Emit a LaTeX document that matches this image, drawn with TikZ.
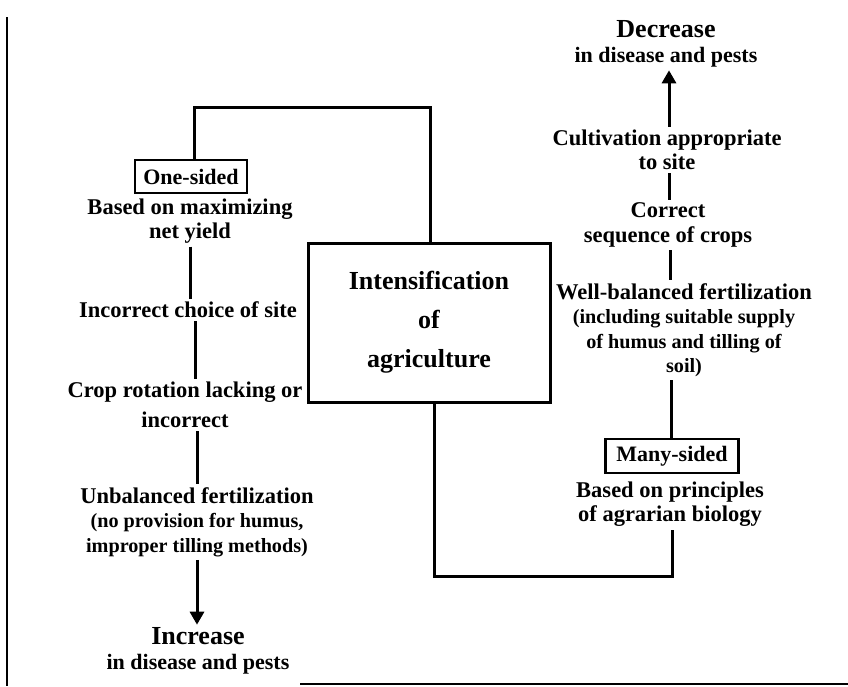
\documentclass[tikz,border=0pt]{standalone}
\usepackage{fontspec}
\setmainfont{Liberation Serif}
\usetikzlibrary{arrows.meta}
\tikzset{
  lbl/.style={align=center, inner sep=3pt, font=\bfseries\fontsize{22.5}{24.5}\selectfont},
  tagbox/.style={draw, line width=2.6pt, inner sep=0pt, font=\bfseries\fontsize{22}{24}\selectfont},
  mainbox/.style={draw, line width=3pt, minimum width=242pt, minimum height=159pt, align=center, font=\bfseries\fontsize{26}{39}\selectfont},
  conn/.style={line width=3pt},
  arr/.style={line width=3pt, -{Triangle[length=13pt,width=14pt]}},
  frame/.style={line width=2.4pt}
}
\begin{document}
\begin{tikzpicture}[x=1pt,y=-1pt]
\useasboundingbox (0,0) rectangle (848,686);
% frame lines
\coordinate (ft) at (7,17);
\coordinate (fb) at (7,686);
\coordinate (bl0) at (300,684);
\coordinate (br0) at (848,684);
\draw[frame] (ft) -- (fb);
\draw[line width=1.8pt] (bl0) -- (br0);

% central box
\node[mainbox] (box) at (429,322.5) {Intensification\\of\\agriculture};

% left column
\node[tagbox, minimum width=112pt, minimum height=33pt] (one) at (191,176.5) {One-sided};
\node[lbl] (based) at (190,221) {Based on maximizing\\net yield};
\node[lbl] (site) at (188,310) {Incorrect choice of site};
\node[lbl] (crop) at (185,405) {Crop rotation lacking or\\[6pt]incorrect};
\node[lbl] (unbal) at (197,522) {Unbalanced fertilization\\{\fontsize{20.2}{24}\selectfont (no provision for humus,}\\{\fontsize{20.2}{24}\selectfont improper tilling methods)}};
\node[lbl] (incr) at (198,651) {{\fontsize{26}{26}\selectfont Increase}\\{\fontsize{22}{24}\selectfont in disease and pests}};

% right column
\node[lbl] (dec) at (666,44) {{\fontsize{26}{26}\selectfont Decrease}\\{\fontsize{22}{24}\selectfont in disease and pests}};
\node[lbl] (cult) at (667,150) {Cultivation appropriate\\to site};
\node[lbl] (corr) at (668,225) {Correct\\sequence of crops};
\node[lbl] (well) at (684,330) {Well-balanced fertilization\\{\fontsize{20.2}{23}\selectfont (including suitable supply}\\{\fontsize{20.2}{23}\selectfont of humus and tilling of}\\{\fontsize{20.2}{21}\selectfont soil)}};
\node[tagbox, minimum width=133pt, minimum height=34pt] (many) at (672,456) {Many-sided};
\node[lbl] (princ) at (670,504) {Based on principles\\of agrarian biology};

% connectors, left
\coordinate (tl) at (194,107);
\coordinate (tr) at (430,107);
\draw[conn] (one.north -| tl) -- (tl) -- (tr) -- (box.north -| tr);
\draw[conn] (based.south) -- (based.south |- site.north);
\draw[conn] ([xshift=7pt]site.south) -- ([xshift=7pt]site.south |- crop.north);
\draw[conn] ([xshift=12pt]crop.south) -- ([xshift=12pt]crop.south |- unbal.north);
\draw[arr] (unbal.south) -- (unbal.south |- incr.north);

% connectors, right
\draw[arr] ([xshift=2pt]cult.north) -- ([xshift=2pt]cult.north |- dec.south);
\draw[conn] ([xshift=2pt]cult.south) -- ([xshift=2pt]cult.south |- corr.north);
\draw[conn] ([xshift=2pt]corr.south) -- ([xshift=2pt]corr.south |- well.north);
\draw[conn] ([xshift=-13pt]well.south) -- ([xshift=-13pt]well.south |- many.north);
\coordinate (bl) at (434,576);
\coordinate (br) at (672,576);
\draw[conn] (box.south -| bl) -- (bl) -- (br) -- (princ.south -| br);
\end{tikzpicture}
\end{document}
